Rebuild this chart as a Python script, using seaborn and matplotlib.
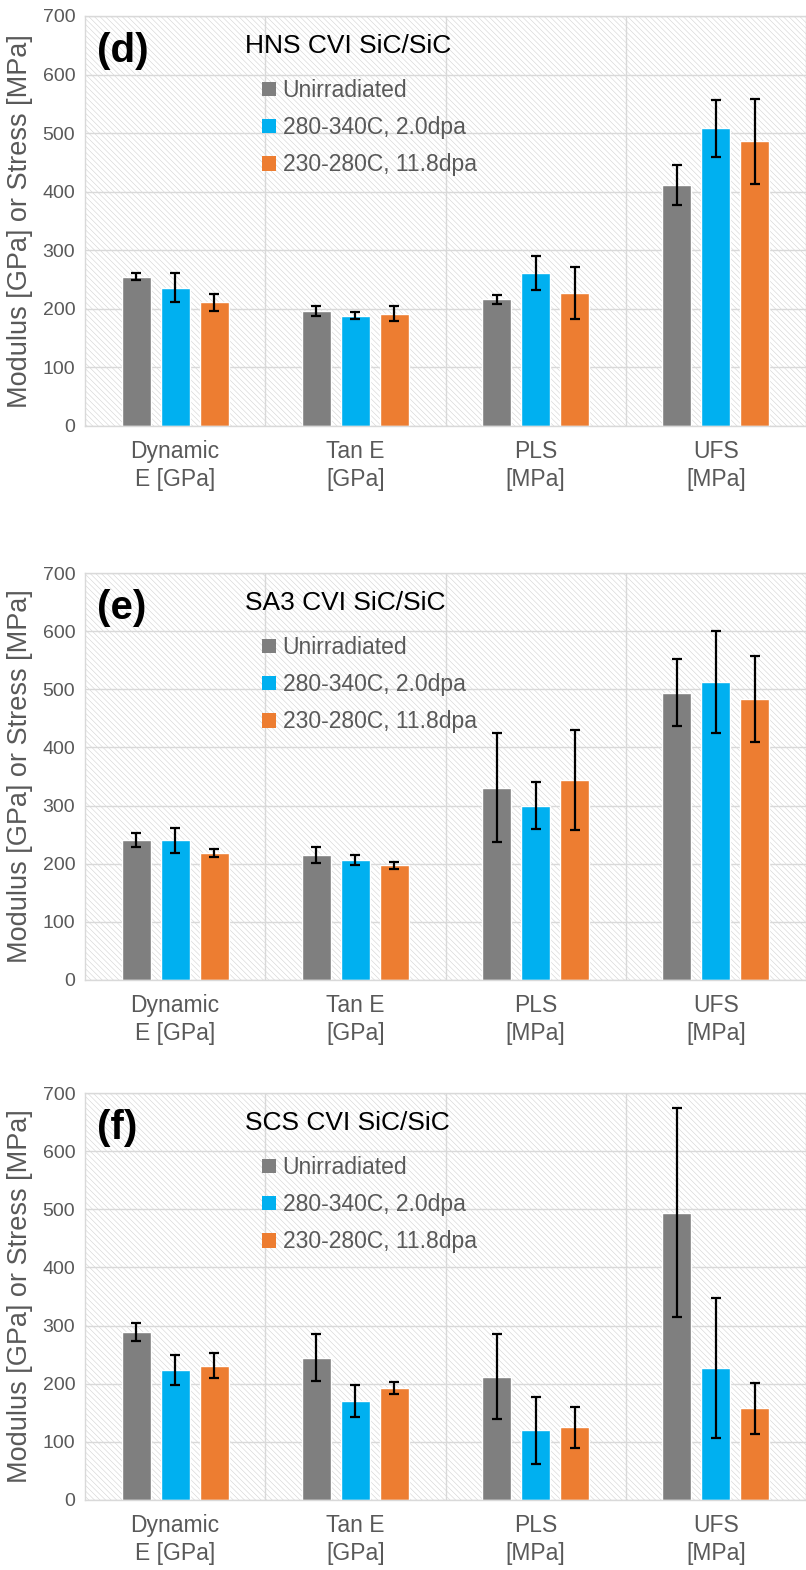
import numpy as np
import pandas as pd
import matplotlib
matplotlib.use("Agg")
import matplotlib.pyplot as plt
from matplotlib.patches import Rectangle, Patch
import seaborn as sns

# ---------------- data ----------------
categories = ["Dynamic\nE [GPa]", "Tan E\n[GPa]", "PLS\n[MPa]", "UFS\n[MPa]"]
conditions = ["Unirradiated", "280-340C, 2.0dpa", "230-280C, 11.8dpa"]

hns_unirr = [255, 196, 216, 412]
hns_unirr_err = [6, 9, 8, 34]
hns_low = [236, 188, 261, 508]
hns_low_err = [25, 6, 29, 48]
hns_high = [211, 192, 227, 486]
hns_high_err = [14, 13, 45, 72]

sa3_unirr = [240, 215, 331, 494]
sa3_unirr_err = [12, 14, 93, 58]
sa3_low = [240, 206, 300, 512]
sa3_low_err = [22, 9, 40, 88]
sa3_high = [219, 197, 344, 483]
sa3_high_err = [7, 6, 86, 74]

scs_unirr = [289, 245, 212, 494]
scs_unirr_err = [16, 40, 73, 180]
scs_low = [223, 170, 120, 227]
scs_low_err = [26, 27, 58, 120]
scs_high = [231, 193, 125, 158]
scs_high_err = [21, 10, 35, 44]

panel_letters = ["(d)", "(e)", "(f)"]
panel_titles = ["HNS CVI SiC/SiC", "SA3 CVI SiC/SiC", "SCS CVI SiC/SiC"]
y_ticks = [0, 100, 200, 300, 400, 500, 600, 700]
y_label = "Modulus [GPa] or Stress [MPa]"

colors = ["#7f7f7f", "#00b0f0", "#ed7d31"]

# ---------------- style ----------------
sns.set_style("white")
fam = ["Liberation Sans", "DejaVu Sans"]
plt.rcParams["font.family"] = fam
plt.rcParams["hatch.linewidth"] = 0.35

W, H = 806, 1570
fig = plt.figure(figsize=(W / 100, H / 100), dpi=100)

panels = [
    (hns_unirr, hns_unirr_err, hns_low, hns_low_err, hns_high, hns_high_err),
    (sa3_unirr, sa3_unirr_err, sa3_low, sa3_low_err, sa3_high, sa3_high_err),
    (scs_unirr, scs_unirr_err, scs_low, scs_low_err, scs_high, scs_high_err),
]
ax_top = [16, 573, 1093]
ax_bot = [426, 980, 1500]
ax_left, ax_right = 85, 806
grid_c = "#d9d9d9"
txt_c = "#595959"


def fx(px):
    return px / W


def fy(py):
    return 1 - py / H


for i, (u, ue, lo, loe, hi, hie) in enumerate(panels):
    top, bot = ax_top[i], ax_bot[i]
    ax = fig.add_axes([fx(ax_left), fy(bot), (ax_right - ax_left) / W, (bot - top) / H])

    df = pd.DataFrame({
        "category": categories * 3,
        "condition": [c for c in conditions for _ in categories],
        "value": u + lo + hi,
    })
    errs = [ue, loe, hie]

    # hatched plot background
    ax.set_facecolor("white")
    ax.add_patch(Rectangle((0, 0), 1, 1, transform=ax.transAxes, facecolor="white",
                           edgecolor="#cdcdcd", hatch="\\" * 6, lw=0, zorder=0))
    ax.set_axisbelow(True)

    sns.barplot(data=df, x="category", y="value", hue="condition", order=categories,
                hue_order=conditions, palette=colors, width=0.65, gap=0.26,
                errorbar=None, saturation=1, legend=False, ax=ax, zorder=2)

    for cont, e in zip(ax.containers, errs):
        xs = [p.get_x() + p.get_width() / 2 for p in cont.patches]
        ys = [p.get_height() for p in cont.patches]
        ax.errorbar(xs, ys, yerr=e, fmt="none", ecolor="black", elinewidth=1.6,
                    capsize=3.5, capthick=1.6, zorder=3)

    ax.set_xlim(-0.5, 3.5)
    ax.set_ylim(0, 700)
    ax.set_yticks(y_ticks)
    ax.set_xticks([0.5, 1.5, 2.5], minor=True)
    ax.grid(True, axis="y", which="major", color=grid_c, lw=1)
    ax.grid(True, axis="x", which="minor", color=grid_c, lw=1)
    ax.grid(False, axis="x", which="major")
    for s in ax.spines.values():
        s.set_color(grid_c)
        s.set_linewidth(1)
    ax.tick_params(axis="both", which="both", length=0)
    ax.tick_params(axis="y", pad=7, labelcolor=txt_c)
    ax.tick_params(axis="x", pad=10, labelcolor=txt_c)
    ax.set_xlabel("")
    for t in ax.get_yticklabels():
        t.set_fontsize(14)
    for t in ax.get_xticklabels():
        t.set_fontsize(16.5)
        t.set_linespacing(1.3)
    ax.set_ylabel(y_label, fontsize=19.5, color=txt_c)
    ax.yaxis.set_label_coords(-0.072, 0.5)

    fig.text(fx(97), fy(top + 46), panel_letters[i], fontsize=29, fontweight="bold",
             color="black", va="baseline", ha="left")
    fig.text(fx(245), fy(top + 37), panel_titles[i], fontsize=19, color="black",
             va="baseline", ha="left")

    handles = [Patch(facecolor=c, edgecolor="none") for c in colors]
    ax.legend(handles, conditions, loc="upper left",
              bbox_to_anchor=(fx(262), fy(top + 63)), bbox_transform=fig.transFigure,
              frameon=False, prop={"size": 16.5}, labelcolor=txt_c,
              handlelength=0.6, handleheight=0.6, handletextpad=0.3,
              labelspacing=0.62, borderpad=0, borderaxespad=0)

fig.savefig("out.png", dpi=100)
